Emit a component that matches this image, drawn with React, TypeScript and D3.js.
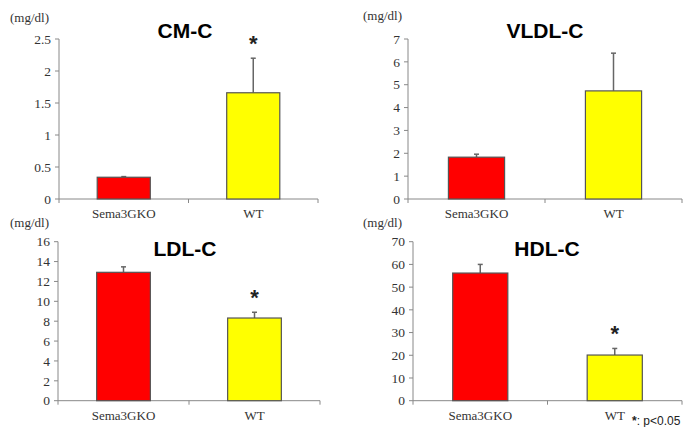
import React from "react";
import * as d3 from "d3";

const groups = ["Sema3GKO", "WT"];
const barColors = ["#ff0000", "#ffff00"];

const cmMean = [0.34, 1.66];
const cmSem = [0.01, 0.54];
const vldlMean = [1.83, 4.73];
const vldlSem = [0.13, 1.65];
const ldlMean = [12.92, 8.32];
const ldlSem = [0.55, 0.58];
const hdlMean = [56.2, 20.1];
const hdlSem = [3.8, 2.9];

const cmTicks = [0, 0.5, 1, 1.5, 2, 2.5];
const vldlTicks = [0, 1, 2, 3, 4, 5, 6, 7];
const ldlTicks = [0, 2, 4, 6, 8, 10, 12, 14, 16];
const hdlTicks = [0, 10, 20, 30, 40, 50, 60, 70];

const serif = "Liberation Serif, Times New Roman, DejaVu Serif, serif";
const sans = "Liberation Sans, Arial, sans-serif";

type PanelProps = {
  title: string;
  means: number[];
  sems: number[];
  ticks: number[];
  sig: boolean[];
  x0: number; // y axis position
  x1: number; // end of x axis
  yTop: number;
  yZero: number;
  unitX: number;
  unitY: number;
  titleX: number;
  titleY: number;
};

const Panel = ({ title, means, sems, ticks, sig, x0, x1, yTop, yZero, unitX, unitY, titleX, titleY }: PanelProps) => {
  const y = d3.scaleLinear().domain([0, d3.max(ticks) as number]).range([yZero, yTop]);
  const x = d3.scaleBand().domain(groups).range([x0, x1]).paddingInner(0.59).paddingOuter(0.295);
  const mid = (x0 + x1) / 2;

  return (
    <g>
      <text x={unitX} y={unitY} style={{ fontFamily: serif }} fontSize={13} fill="#333">
        (mg/dl)
      </text>
      <text x={titleX} y={titleY} textAnchor="middle" style={{ fontFamily: sans }} fontWeight="bold" fontSize={21} fill="#000">
        {title}
      </text>

      {/* y axis */}
      <line x1={x0} x2={x0} y1={yTop} y2={yZero} stroke="#888" strokeWidth={1} />
      {ticks.map((t) => (
        <g key={t}>
          <line x1={x0 - 4} x2={x0} y1={y(t)} y2={y(t)} stroke="#888" />
          <text x={x0 - 8} y={y(t)} dy="0.35em" textAnchor="end" style={{ fontFamily: serif }} fontSize={13.5} fill="#333">
            {String(t)}
          </text>
        </g>
      ))}

      {/* x axis */}
      <line x1={x0} x2={x1} y1={yZero} y2={yZero} stroke="#888" />
      {[x0, mid, x1].map((p, i) => (
        <line key={i} x1={p} x2={p} y1={yZero} y2={yZero + 4} stroke="#888" />
      ))}

      {groups.map((g, i) => {
        const bx = x(g) as number;
        const bw = x.bandwidth();
        const cx = bx + bw / 2;
        const top = y(means[i]);
        const errTop = y(means[i] + sems[i]);
        return (
          <g key={g}>
            <line x1={cx} x2={cx} y1={top} y2={errTop} stroke="#666" strokeWidth={1.5} />
            <line x1={cx - 2.5} x2={cx + 2.5} y1={errTop} y2={errTop} stroke="#666" strokeWidth={1.5} />
            <rect x={bx} y={top} width={bw} height={yZero - top} fill={barColors[i]} stroke="#555" strokeWidth={1.2} />
            {sig[i] && (
              <text x={cx} y={errTop - 7} textAnchor="middle" style={{ fontFamily: sans }} fontWeight="bold" fontSize={22} fill="#222">
                *
              </text>
            )}
            <text x={cx} y={yZero + 19} textAnchor="middle" style={{ fontFamily: serif }} fontSize={13} fill="#333">
              {g}
            </text>
          </g>
        );
      })}
    </g>
  );
};

export default function App() {
  return (
    <svg width={685} height={427} style={{ position: "absolute", left: 0, top: 0, background: "#fff" }}>
      <rect width={685} height={427} fill="#fff" />
      <Panel title="CM-C" means={cmMean} sems={cmSem} ticks={cmTicks} sig={[false, true]}
        x0={59} x1={318} yTop={39} yZero={199} unitX={10} unitY={22} titleX={185} titleY={38} />
      <Panel title="VLDL-C" means={vldlMean} sems={vldlSem} ticks={vldlTicks} sig={[false, false]}
        x0={408} x1={682} yTop={39} yZero={199} unitX={363} unitY={20} titleX={545} titleY={38} />
      <Panel title="LDL-C" means={ldlMean} sems={ldlSem} ticks={ldlTicks} sig={[false, true]}
        x0={58} x1={320} yTop={241.7} yZero={400.7} unitX={10} unitY={227} titleX={185} titleY={256} />
      <Panel title="HDL-C" means={hdlMean} sems={hdlSem} ticks={hdlTicks} sig={[false, true]}
        x0={413} x1={682} yTop={241.7} yZero={400.7} unitX={363} unitY={227} titleX={547} titleY={256} />
      <text x={632} y={425} style={{ fontFamily: sans }} fontSize={12} fill="#222">
        <tspan fontWeight="bold">*</tspan>: p&lt;0.05
      </text>
    </svg>
  );
}
